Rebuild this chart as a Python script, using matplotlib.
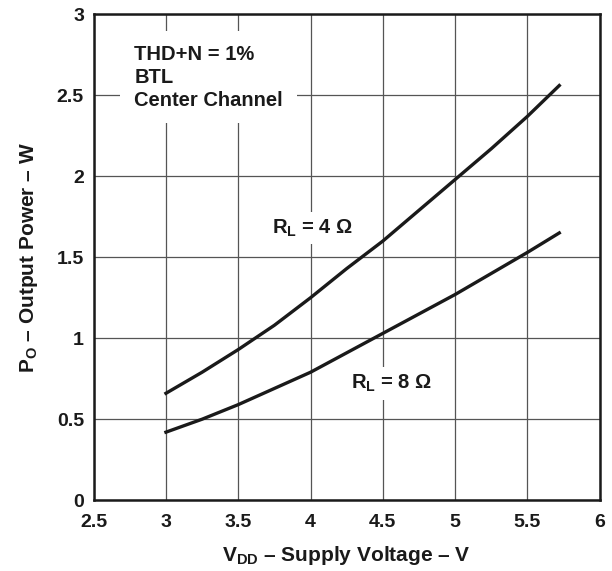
import numpy as np
import matplotlib.pyplot as plt

plt.rcParams['font.family'] = ['Liberation Sans', 'DejaVu Sans']
plt.rcParams['font.weight'] = 'bold'
plt.rcParams['mathtext.fontset'] = 'custom'
plt.rcParams['mathtext.rm'] = 'Liberation Sans:bold'
plt.rcParams['mathtext.bf'] = 'Liberation Sans:bold'

vdd = [3.0, 3.25, 3.5, 3.75, 4.0, 4.25, 4.5, 4.75, 5.0, 5.25, 5.5, 5.72]
po_4ohm = [0.66, 0.79, 0.93, 1.08, 1.25, 1.43, 1.60, 1.79, 1.98, 2.17, 2.37, 2.56]
po_8ohm = [0.42, 0.50, 0.59, 0.69, 0.79, 0.91, 1.03, 1.15, 1.27, 1.40, 1.53, 1.65]

xticks = [2.5, 3, 3.5, 4, 4.5, 5, 5.5, 6]
xticklabels = ['2.5', '3', '3.5', '4', '4.5', '5', '5.5', '6']
yticks = [0, 0.5, 1, 1.5, 2, 2.5, 3]
yticklabels = ['0', '0.5', '1', '1.5', '2', '2.5', '3']

fig = plt.figure(figsize=(6.12, 5.71), dpi=100)
ax = fig.add_axes([0.153, 0.124, 0.827, 0.851])

ax.plot(vdd, po_4ohm, color='#1a1a1a', lw=2.4, zorder=3)
ax.plot(vdd, po_8ohm, color='#1a1a1a', lw=2.4, zorder=3)

ax.set_xlim(2.5, 6)
ax.set_ylim(0, 3)
ax.set_xticks(xticks)
ax.set_xticklabels(xticklabels)
ax.set_yticks(yticks)
ax.set_yticklabels(yticklabels)
ax.tick_params(axis='x', length=0, labelsize=14, pad=10, colors='#1a1a1a')
ax.tick_params(axis='y', length=0, labelsize=14, pad=7, colors='#1a1a1a')
ax.grid(True, color='#555555', lw=0.9)
ax.set_axisbelow(True)
for s in ax.spines.values():
    s.set_linewidth(1.8)
    s.set_color('#1a1a1a')

box = dict(facecolor='white', edgecolor='none', pad=4)
ax.text(2.78, 2.81, 'THD+N = 1%\nBTL\nCenter Channel', fontsize=14.5, fontweight='bold',
        va='top', ha='left', linespacing=1.25, color='#1a1a1a',
        bbox=dict(facecolor='white', edgecolor='none', pad=10), zorder=2)
ax.text(3.73, 1.68, r'$\mathregular{R_L}$ = 4 Ω', fontsize=14.5, fontweight='bold',
        va='center', ha='left', color='#1a1a1a', bbox=box, zorder=2)
ax.text(4.28, 0.72, r'$\mathregular{R_L}$ = 8 Ω', fontsize=14.5, fontweight='bold',
        va='center', ha='left', color='#1a1a1a', bbox=box, zorder=2)

ax.set_xlabel(r'$\mathregular{V_{DD}}$ – Supply Voltage – V', fontsize=15, fontweight='bold',
              labelpad=9, color='#1a1a1a')
ax.set_ylabel(r'$\mathregular{P_O}$ – Output Power – W', fontsize=15, fontweight='bold',
              labelpad=12, color='#1a1a1a')

fig.savefig('out.png', dpi=100)
